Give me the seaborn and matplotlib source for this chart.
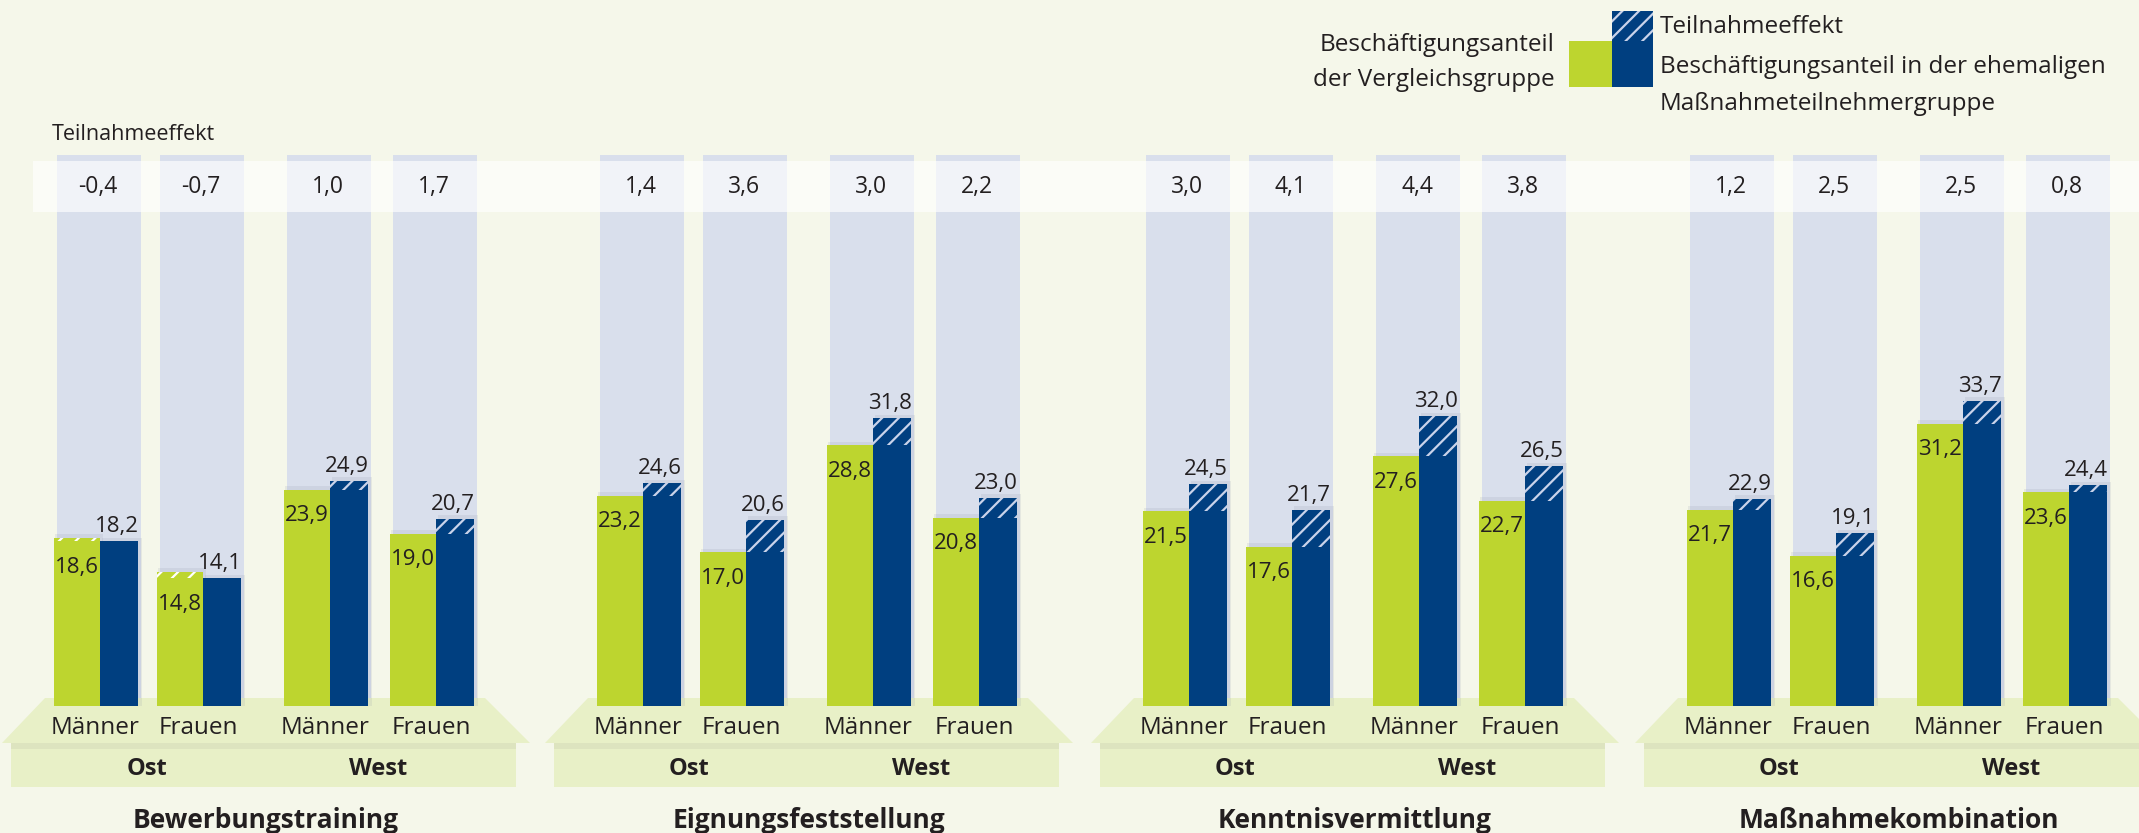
import numpy as np
import pandas as pd
import matplotlib
matplotlib.use('Agg')
import matplotlib.pyplot as plt
from matplotlib.patches import Rectangle, Polygon
import seaborn as sns

# Daten
massnahmen = ['Bewerbungstraining', 'Eignungsfeststellung', 'Kenntnisvermittlung', 'Maßnahmekombination']
gruppen = ['Männer', 'Frauen', 'Männer', 'Frauen']
regionen = ['Ost', 'West']
# Beschäftigungsanteil der Vergleichsgruppe (grün)
vergleich = [[18.6, 14.8, 23.9, 19.0],
             [23.2, 17.0, 28.8, 20.8],
             [21.5, 17.6, 27.6, 22.7],
             [21.7, 16.6, 31.2, 23.6]]
# Beschäftigungsanteil der ehemaligen Maßnahmeteilnehmer (blau)
teilnehmer = [[18.2, 14.1, 24.9, 20.7],
              [24.6, 20.6, 31.8, 23.0],
              [24.5, 21.7, 32.0, 26.5],
              [22.9, 19.1, 33.7, 24.4]]
effekt = [[-0.4, -0.7, 1.0, 1.7],
          [1.4, 3.6, 3.0, 2.2],
          [3.0, 4.1, 4.4, 3.8],
          [1.2, 2.5, 2.5, 0.8]]

# Farben
GREEN = '#BDD52F'
BLUE = '#003F80'
LAV = '#D9DFEC'
BG = '#F5F7EA'
PLAT = '#E8F0C7'
TXT = '#231F20'
HATCH = '#C9D3EA'

# Layout (Pixel)
W, H = 2139, 833
BASE = 706
PPU = 9.05
col_off = np.array([0, 103, 230, 336], float)
panel_x = [57, 600, 1146, 1690]

sns.set_style('white')
plt.rcParams['font.family'] = ['Open Sans', 'DejaVu Sans']
plt.rcParams['hatch.linewidth'] = 1.6
plt.rcParams['text.color'] = TXT


def fy(p):
    return (BASE - p) / PPU


def fmt(v):
    return f'{v:.1f}'.replace('.', ',')


fig = plt.figure(figsize=(W / 100, H / 100), dpi=100, facecolor=BG)

for k, name in enumerate(massnahmen):
    left = panel_x[k] - 57
    right = panel_x[k + 1] - 57 if k < 3 else W
    ax = fig.add_axes([left / W, 0, (right - left) / W, 1])
    ax.set_facecolor('none')
    g = np.array(vergleich[k])
    b = np.array(teilnehmer[k])

    # Hintergrundsäulen
    ax.bar(col_off + 42, fy(155), width=84, color=LAV, linewidth=0, zorder=1)
    # weißes Band für Teilnahmeeffekt
    x0 = 33 - 57 if k == 0 else -57
    ax.fill_between([x0, right - left - 57], fy(212), fy(161), color='white',
                    alpha=0.65, linewidth=0, zorder=2)

    # Podest
    ax.add_patch(Polygon([(-55, fy(743)), (-12, fy(698)), (428, fy(698)), (473, fy(743))],
                         closed=True, facecolor=PLAT, edgecolor='none', zorder=3))
    ax.add_patch(Rectangle((-46, fy(787)), 505, fy(743) - fy(787),
                           facecolor=PLAT, edgecolor='none', zorder=3))
    ax.add_patch(Rectangle((-46, fy(749)), 505, fy(743) - fy(749),
                           facecolor='#CDD3B4', alpha=0.4, edgecolor='none', zorder=3.5))

    # leichter Schatten je Balken
    ax.bar(col_off + 22, g + 0.4, width=48, color='#8E95A8',
           alpha=0.15, linewidth=0, zorder=3.8)
    ax.bar(col_off + 65, b + 0.4, width=40, color='#8E95A8',
           alpha=0.15, linewidth=0, zorder=3.8)

    df_g = pd.DataFrame({'x': col_off + 20, 'y': g})
    df_b = pd.DataFrame({'x': col_off + 62, 'y': b})
    sns.barplot(data=df_g, x='x', y='y', native_scale=True, width=46 / 103,
                color=GREEN, saturation=1, errorbar=None, linewidth=0, zorder=4, ax=ax)
    sns.barplot(data=df_b, x='x', y='y', native_scale=True, width=38 / 103,
                color=BLUE, saturation=1, errorbar=None, linewidth=0, zorder=4, ax=ax)

    # schraffierter Teilnahmeeffekt
    for i in range(4):
        lo, hi = min(g[i], b[i]), max(g[i], b[i])
        if b[i] >= g[i]:
            ax.bar(col_off[i] + 62, hi - lo, bottom=lo, width=38, color=BLUE,
                   edgecolor=HATCH, hatch='//', linewidth=0, zorder=5)
        else:
            ax.bar(col_off[i] + 20, hi - lo, bottom=lo, width=46, color=GREEN,
                   edgecolor='white', hatch='//', linewidth=0, zorder=5)

        ax.text(col_off[i] + 60, b[i] + 1.0, fmt(b[i]), ha='center', va='baseline',
                fontsize=16, zorder=6)
        ax.text(col_off[i] + 20, lo - 1.7, fmt(g[i]), ha='center', va='top',
                fontsize=16, zorder=6)
        ax.text(col_off[i] + 41, fy(187), fmt(effekt[k][i]), ha='center', va='center',
                fontsize=16.5, zorder=6)
        ax.text(col_off[i] + 38, fy(728), gruppen[i], ha='center', va='center',
                fontsize=17.5, zorder=6)

    ax.text((col_off[0] + col_off[1]) / 2 + 38, fy(769), regionen[0], ha='center',
            va='center', fontsize=17, fontweight='bold', zorder=6)
    ax.text((col_off[2] + col_off[3]) / 2 + 38, fy(769), regionen[1], ha='center',
            va='center', fontsize=17, fontweight='bold', zorder=6)
    ax.text(209, fy(820), name, ha='center', va='center', fontsize=19,
            fontweight='bold', zorder=6)

    ax.set_xlim(-57, right - left - 57)
    ax.set_ylim(fy(H), fy(0))
    ax.axis('off')


# Legende
def fx(p):
    return p / W


def fyy(p):
    return 1 - p / H


fig.patches.append(Rectangle((fx(1612), fyy(87)), fx(41), 46 / H, transform=fig.transFigure,
                             facecolor=BLUE, edgecolor='none', zorder=3))
fig.patches.append(Rectangle((fx(1612), fyy(41)), fx(41), 30 / H, transform=fig.transFigure,
                             facecolor=BLUE, edgecolor=HATCH, hatch='//', linewidth=0, zorder=3))
fig.patches.append(Rectangle((fx(1569), fyy(87)), fx(43), 46 / H, transform=fig.transFigure,
                             facecolor=GREEN, edgecolor='none', zorder=3))
fig.text(fx(1660), fyy(27), 'Teilnahmeeffekt', ha='left', va='center', fontsize=17.5)
fig.text(fx(1660), fyy(67), 'Beschäftigungsanteil in der ehemaligen', ha='left', va='center', fontsize=17.5)
fig.text(fx(1660), fyy(104), 'Maßnahmeteilnehmergruppe', ha='left', va='center', fontsize=17.5)
fig.text(fx(1555), fyy(45), 'Beschäftigungsanteil', ha='right', va='center', fontsize=17.5)
fig.text(fx(1555), fyy(80), 'der Vergleichsgruppe', ha='right', va='center', fontsize=17.5)
fig.text(fx(52), fyy(135), 'Teilnahmeeffekt', ha='left', va='center', fontsize=15.5)

fig.savefig('out.png', dpi=100, facecolor=BG)
